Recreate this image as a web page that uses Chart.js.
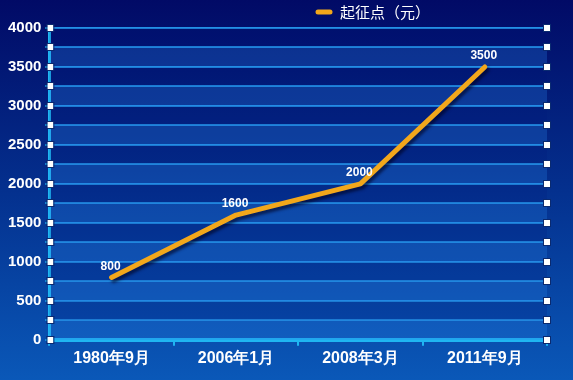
<!doctype html>
<html>
<head>
<meta charset="utf-8">
<title>起征点</title>
<script src="https://cdn.jsdelivr.net/npm/chart.js@4.4.1/dist/chart.umd.min.js"></script>
<style>
  html, body { margin: 0; padding: 0; }
  body { width: 573px; height: 380px; background: linear-gradient(#010a66 0%, #04308e 50%, #0a58b8 100%); overflow: hidden; }
  canvas { display: block; }
</style>
</head>
<body>
<canvas id="chart" width="573" height="380"></canvas>
<script>
var categories = ['1980年9月', '2006年1月', '2008年3月', '2011年9月'];
var values = [800, 1600, 2000, 3500];
var seriesName = '起征点（元）';
var yTicks = [0, 500, 1000, 1500, 2000, 2500, 3000, 3500, 4000];

var lineColor = '#f2a71b';
var gridColor = '#2391e6';
var axisColor = '#1fb6f2';

// alternating bands, square markers, data labels and a legend placed like the original
var decor = {
  id: 'decor',
  beforeDatasetsDraw: function(chart) {
    var ctx = chart.ctx, a = chart.chartArea, y = chart.scales.y;
    ctx.save();
    for (var v = 0; v < 4000; v += 250) {
      var top = y.getPixelForValue(v + 250), bot = y.getPixelForValue(v);
      ctx.fillStyle = (v / 250) % 2 === 0 ? 'rgba(40,130,230,0.28)' : 'rgba(0,20,120,0.18)';
      ctx.fillRect(a.left, top, a.right - a.left, bot - top);
    }
    ctx.restore();
  },
  afterDatasetsDraw: function(chart) {
    var ctx = chart.ctx, a = chart.chartArea, y = chart.scales.y;
    ctx.save();
    for (var v = 0; v <= 4000; v += 250) {
      var py = Math.round(y.getPixelForValue(v));
      [a.left + 1, a.right].forEach(function(px) {
        ctx.fillStyle = '#ffffff';
        ctx.strokeStyle = '#0a2a70';
        ctx.lineWidth = 1;
        ctx.fillRect(px - 3, py - 3, 6, 6);
        ctx.strokeRect(px - 3.5, py - 3.5, 7, 7);
      });
    }
    // data labels
    var meta = chart.getDatasetMeta(0);
    ctx.fillStyle = '#ffffff';
    ctx.font = 'bold 12px "Liberation Sans", Arial, sans-serif';
    ctx.textAlign = 'center';
    ctx.textBaseline = 'bottom';
    meta.data.forEach(function(pt, i) {
      ctx.fillText(String(values[i]), pt.x - 1, pt.y - 5);
    });
    // legend
    ctx.strokeStyle = lineColor;
    ctx.lineWidth = 5;
    ctx.lineCap = 'round';
    ctx.beginPath();
    ctx.moveTo(318, 12);
    ctx.lineTo(330, 12);
    ctx.stroke();
    ctx.fillStyle = '#ffffff';
    ctx.font = '15px "Noto Sans CJK SC", sans-serif';
    ctx.textAlign = 'left';
    ctx.textBaseline = 'middle';
    ctx.fillText(seriesName, 340, 12);
    ctx.restore();
  }
};

var shadow = {
  id: 'shadow',
  beforeDatasetDraw: function(chart) {
    var ctx = chart.ctx;
    ctx.save();
    ctx.shadowColor = 'rgba(0,0,30,0.6)';
    ctx.shadowOffsetX = 2;
    ctx.shadowOffsetY = 3;
    ctx.shadowBlur = 3;
  },
  afterDatasetDraw: function(chart) { chart.ctx.restore(); }
};

new Chart(document.getElementById('chart'), {
  type: 'line',
  data: {
    labels: categories,
    datasets: [{
      label: seriesName,
      data: values,
      borderColor: lineColor,
      backgroundColor: lineColor,
      borderWidth: 5,
      borderCapStyle: 'round',
      borderJoinStyle: 'round',
      pointRadius: 0,
      tension: 0,
      fill: false
    }]
  },
  options: {
    responsive: false,
    animation: false,
    devicePixelRatio: 1,
    layout: { padding: { top: 28, right: 26, bottom: 9, left: 4 } },
    plugins: {
      tooltip: { enabled: false },
      legend: { display: false }
    },
    scales: {
      x: {
        offset: true,
        grid: {
          display: true,
          offset: true,
          drawOnChartArea: false,
          drawTicks: true,
          tickLength: 6,
          color: axisColor,
          lineWidth: 2
        },
        border: { display: true, color: axisColor, width: 4 },
        ticks: {
          color: '#ffffff',
          padding: 3,
          maxRotation: 0,
          font: { size: 16, weight: 'bold', family: '"Liberation Sans", Arial, sans-serif' }
        }
      },
      y: {
        min: 0,
        max: 4000,
        afterBuildTicks: function(axis) {
          var t = [];
          for (var v = 0; v <= 4000; v += 250) t.push({ value: v });
          axis.ticks = t;
        },
        grid: {
          color: gridColor,
          lineWidth: 2,
          drawTicks: true,
          tickLength: 4,
          tickColor: axisColor
        },
        border: { display: true, color: axisColor, width: 3 },
        ticks: {
          color: '#ffffff',
          padding: 4,
          autoSkip: false,
          font: { size: 15, weight: 'bold', family: '"Liberation Sans", Arial, sans-serif' },
          callback: function(v) { return yTicks.indexOf(v) >= 0 ? String(v) : ''; }
        }
      }
    }
  },
  plugins: [decor, shadow]
});
</script>
</body>
</html>
